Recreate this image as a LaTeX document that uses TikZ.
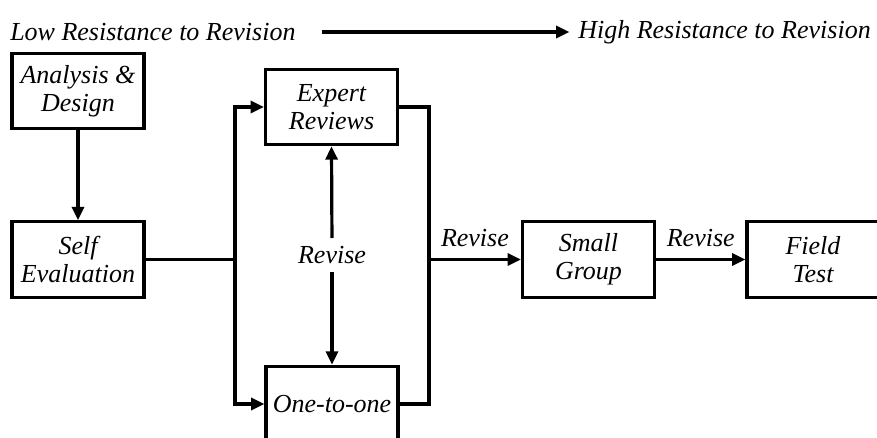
\documentclass[tikz,border=0pt]{standalone}
\usepackage{fontspec}
\setmainfont{Liberation Serif}
\usetikzlibrary{arrows.meta,calc}
\begin{document}
\begin{tikzpicture}[x=0.75pt,y=-0.75pt,
  every node/.style={font=\fontsize{19.5}{21}\selectfont\itshape},
  stage/.style={draw,line width=2.5pt,minimum width=99pt,minimum height=56.5pt,inner sep=0pt,align=center},
  lbl/.style={inner sep=0pt},
  conn/.style={line width=2.4pt},
  arr/.style={conn,-{Triangle[length=10pt,width=9pt]}},
  line join=miter]
\useasboundingbox (0,0) rectangle (877,438);
\clip (0,0) rectangle (877,438);
\node[lbl,anchor=west] (low) at (10,32) {Low Resistance to Revision};
\node[lbl,anchor=west] (high) at (578,32) {High Resistance to Revision};
\draw[arr,shorten <=19.5pt,shorten >=6.5pt] (low.east) -- (high.west);

\node[stage] (AD) at (78,91) {Analysis \&\\Design};
\node[stage] (SE) at (78,259.5) {Self\\Evaluation};
\node[stage] (ER) at (331.5,107) {Expert\\Reviews};
\node[stage] (OO) at (332,404) {One-to-one};
\node[stage] (SG) at (588.5,259.5) {Small\\Group};
\node[stage] (FT) at (813,259.5) {Field\\Test};
\node[lbl] (rev) at (332,255) {Revise};

\coordinate (j1) at (235,259.5);
\coordinate (j2) at (429,259.5);

\draw[arr] (AD.south) -- (SE.north);
\draw[conn] (SE.east) -- (j1);
\draw[arr] (j1) |- (ER.west);
\draw[arr] (j1) |- (OO.west);
\draw[conn] (ER.east) -- (ER.east -| j2) -- (OO.east -| j2) -- (OO.east);
\draw[arr] (j2) -- node[lbl,above=8pt] (r1) {Revise} (SG.west);
\draw[arr] (SG.east) -- node[lbl,above=8pt] (r2) {Revise} (FT.west);
\draw[arr,shorten <=6pt] (rev.north) -- (ER.south);
\draw[arr,shorten <=6pt] (rev.south) -- (OO.north);
\end{tikzpicture}
\end{document}
